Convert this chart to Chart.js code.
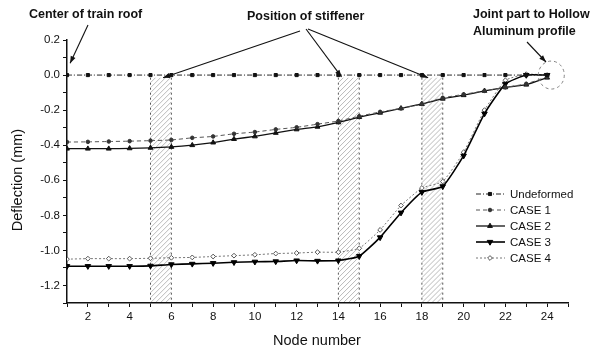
<!DOCTYPE html>
<html>
<head>
<meta charset="utf-8">
<script src="https://cdn.jsdelivr.net/npm/chart.js@4.4.1/dist/chart.umd.min.js"></script>
<style>
  html, body { margin: 0; padding: 0; background: #fff; }
  #wrap { width: 607px; height: 354px; }
</style>
</head>
<body>
<div id="wrap"><canvas id="chart" width="607" height="354"></canvas></div>
<script>
// node numbers along the roof
const nodes = [1, 2, 3, 4, 5, 6, 7, 8, 9, 10, 11, 12, 13, 14, 15, 16, 17, 18, 19, 20, 21, 22, 23, 24];

// deflection (mm) per node
const undeformed = [0, 0, 0, 0, 0, 0, 0, 0, 0, 0, 0, 0, 0, 0, 0, 0, 0, 0, 0, 0, 0, 0, 0, 0];
const case1 = [-0.382, -0.381, -0.379, -0.377, -0.374, -0.37, -0.358, -0.35, -0.335, -0.325, -0.31, -0.298,
               -0.28, -0.262, -0.235, -0.21, -0.19, -0.165, -0.13, -0.11, -0.09, -0.07, -0.05, -0.01];
const case2 = [-0.42, -0.42, -0.42, -0.418, -0.415, -0.41, -0.4, -0.385, -0.365, -0.35, -0.33, -0.31,
               -0.295, -0.27, -0.24, -0.215, -0.19, -0.165, -0.135, -0.115, -0.09, -0.07, -0.055, -0.015];
const case3 = [-1.09, -1.09, -1.09, -1.09, -1.088, -1.08, -1.077, -1.073, -1.068, -1.065, -1.063, -1.058,
               -1.06, -1.058, -1.033, -0.926, -0.785, -0.668, -0.635, -0.46, -0.22, -0.05, 0.0, 0.0];
const case4 = [-1.05, -1.047, -1.047, -1.047, -1.045, -1.042, -1.04, -1.035, -1.03, -1.025, -1.018, -1.015,
               -1.01, -1.01, -0.988, -0.883, -0.744, -0.644, -0.607, -0.44, -0.2, -0.03, 0.005, 0.0];

const seriesLabels = ['Undeformed', 'CASE 1', 'CASE 2', 'CASE 3', 'CASE 4'];
const seriesValues = [undeformed, case1, case2, case3, case4];

// stiffener positions (node ranges) shown as hatched bands
const stiffenerBands = [[5, 6], [14, 15], [18, 19]];
const bandTop = -0.015;

const FONT = '"Liberation Sans", Arial, sans-serif';

const styles = [
  { borderColor: '#222', borderWidth: 1, borderDash: [5, 2, 1, 2], pointStyle: 'rect', pointRadius: 2.2, pointRotation: 0, backgroundColor: '#111', pointBorderColor: '#111' },
  { borderColor: '#555', borderWidth: 1, borderDash: [4, 3], pointStyle: 'circle', pointRadius: 1.8, pointRotation: 0, backgroundColor: '#333', pointBorderColor: '#333' },
  { borderColor: '#111', borderWidth: 1.3, borderDash: [], pointStyle: 'triangle', pointRadius: 2.8, pointRotation: 0, backgroundColor: '#111', pointBorderColor: '#111' },
  { borderColor: '#000', borderWidth: 1.6, borderDash: [], pointStyle: 'triangle', pointRadius: 3.2, pointRotation: 180, backgroundColor: '#000', pointBorderColor: '#000' },
  { borderColor: '#777', borderWidth: 1, borderDash: [2, 2], pointStyle: 'rectRot', pointRadius: 2.4, pointRotation: 0, backgroundColor: '#fff', pointBorderColor: '#555' }
];

const datasets = seriesLabels.map((label, i) => ({
  label,
  data: nodes.map((n, j) => ({ x: n, y: seriesValues[i][j] })),
  borderColor: styles[i].borderColor,
  borderWidth: styles[i].borderWidth,
  borderDash: styles[i].borderDash,
  pointStyle: styles[i].pointStyle,
  pointRadius: styles[i].pointRadius,
  pointRotation: styles[i].pointRotation,
  pointBackgroundColor: styles[i].backgroundColor,
  pointBorderColor: styles[i].pointBorderColor,
  pointBorderWidth: 1,
  tension: 0.15,
  fill: false
}));

function arrow(ctx, x0, y0, x1, y1) {
  ctx.beginPath();
  ctx.moveTo(x0, y0);
  ctx.lineTo(x1, y1);
  ctx.stroke();
  const a = Math.atan2(y1 - y0, x1 - x0);
  const L = 7, W = 2.6;
  ctx.beginPath();
  ctx.moveTo(x1, y1);
  ctx.lineTo(x1 - L * Math.cos(a) + W * Math.sin(a), y1 - L * Math.sin(a) - W * Math.cos(a));
  ctx.lineTo(x1 - L * Math.cos(a) - W * Math.sin(a), y1 - L * Math.sin(a) + W * Math.cos(a));
  ctx.closePath();
  ctx.fill();
}

const bandsPlugin = {
  id: 'bands',
  beforeDatasetsDraw(chart) {
    const { ctx, scales: { x, y } } = chart;
    stiffenerBands.forEach(([a, b]) => {
      const x1 = x.getPixelForValue(a), x2 = x.getPixelForValue(b);
      const y1 = y.getPixelForValue(bandTop), y2 = chart.chartArea.bottom;
      ctx.save();
      ctx.beginPath();
      ctx.rect(x1, y1, x2 - x1, y2 - y1);
      ctx.clip();
      ctx.strokeStyle = 'rgba(0,0,0,0.35)';
      ctx.lineWidth = 0.8;
      for (let k = y1 - (x2 - x1); k < y2 + (x2 - x1); k += 5) {
        ctx.beginPath();
        ctx.moveTo(x1, k + (x2 - x1));
        ctx.lineTo(x2, k);
        ctx.stroke();
      }
      ctx.restore();
      ctx.save();
      ctx.strokeStyle = '#555';
      ctx.lineWidth = 1;
      ctx.setLineDash([2, 3]);
      [x1, x2].forEach(px => {
        ctx.beginPath();
        ctx.moveTo(px, y1);
        ctx.lineTo(px, y2);
        ctx.stroke();
      });
      ctx.restore();
    });
  }
};

const annotatePlugin = {
  id: 'annotate',
  afterDraw(chart) {
    const { ctx, scales: { x, y } } = chart;
    ctx.save();
    ctx.fillStyle = '#111';
    ctx.strokeStyle = '#111';
    ctx.lineWidth = 1.1;

    // axis titles
    ctx.font = '14.5px ' + FONT;
    ctx.textAlign = 'center';
    ctx.textBaseline = 'middle';
    ctx.fillText('Node number', 317, 341);
    ctx.save();
    ctx.translate(18, 180);
    ctx.rotate(-Math.PI / 2);
    ctx.fillText('Deflection (mm)', 0, 0);
    ctx.restore();

    // callouts
    ctx.font = 'bold 12.5px ' + FONT;
    ctx.textAlign = 'left';
    ctx.fillText('Center of train roof', 29, 15);
    ctx.fillText('Position of stiffener', 247, 17);
    ctx.fillText('Joint part to Hollow', 473, 15);
    ctx.fillText('Aluminum profile', 473, 32);

    arrow(ctx, 88, 25, x.getPixelForValue(1.15), y.getPixelForValue(0.068));
    arrow(ctx, 300, 31, x.getPixelForValue(5.6), y.getPixelForValue(-0.015));
    arrow(ctx, 306, 29, x.getPixelForValue(14.15), y.getPixelForValue(-0.01));
    arrow(ctx, 308, 29, x.getPixelForValue(18.3), y.getPixelForValue(-0.015));
    arrow(ctx, 527, 42, 546, 62);

    ctx.save();
    ctx.strokeStyle = '#777';
    ctx.lineWidth = 0.9;
    ctx.setLineDash([3, 3]);
    ctx.beginPath();
    ctx.ellipse(x.getPixelForValue(24.2), y.getPixelForValue(0), 13, 14, 0, 0, Math.PI * 2);
    ctx.stroke();
    ctx.restore();

    // legend
    ctx.font = '11.5px ' + FONT;
    chart.data.datasets.forEach((ds, i) => {
      const ly = 194 + i * 16;
      ctx.save();
      ctx.strokeStyle = ds.borderColor;
      ctx.lineWidth = ds.borderWidth;
      ctx.setLineDash(ds.borderDash);
      ctx.beginPath();
      ctx.moveTo(476, ly);
      ctx.lineTo(505, ly);
      ctx.stroke();
      ctx.setLineDash([]);
      ctx.fillStyle = ds.pointBackgroundColor;
      ctx.strokeStyle = ds.pointBorderColor;
      ctx.lineWidth = 1;
      Chart.helpers.drawPoint(ctx, { pointStyle: ds.pointStyle, radius: ds.pointRadius, rotation: ds.pointRotation, borderWidth: 1 }, 490, ly);
      ctx.restore();
      ctx.fillStyle = '#111';
      ctx.textBaseline = 'middle';
      ctx.fillText(ds.label, 510, ly + 1);
    });
    ctx.restore();
  }
};

new Chart(document.getElementById('chart'), {
  type: 'line',
  data: { datasets },
  options: {
    responsive: false,
    animation: false,
    layout: { padding: { top: 40, right: 39, left: 0, bottom: 0 } },
    plugins: { legend: { display: false }, tooltip: { enabled: false } },
    scales: {
      x: {
        type: 'linear',
        min: 1,
        max: 25,
        afterFit: s => { s.height = 51; },
        ticks: {
          stepSize: 1,
          autoSkip: false,
          maxRotation: 0,
          padding: 3,
          color: '#111',
          font: { size: 11.5, family: FONT },
          callback: v => (v % 2 === 0 ? String(v) : '')
        },
        grid: { drawOnChartArea: false, tickLength: 4, color: '#111' },
        border: { color: '#111', width: 1.5 }
      },
      y: {
        type: 'linear',
        min: -1.3,
        max: 0.2,
        afterFit: s => { s.width = 67; },
        ticks: {
          stepSize: 0.1,
          autoSkip: false,
          padding: 3,
          color: '#111',
          font: { size: 11.5, family: FONT },
          callback: v => {
            const k = Math.round(v * 10);
            if (Math.abs(v * 10 - k) > 1e-6 || k % 2 !== 0) return '';
            return (k / 10).toFixed(1);
          }
        },
        grid: { drawOnChartArea: false, tickLength: 4, color: '#111' },
        border: { color: '#111', width: 1.5 }
      }
    }
  },
  plugins: [bandsPlugin, annotatePlugin]
});
</script>
</body>
</html>
